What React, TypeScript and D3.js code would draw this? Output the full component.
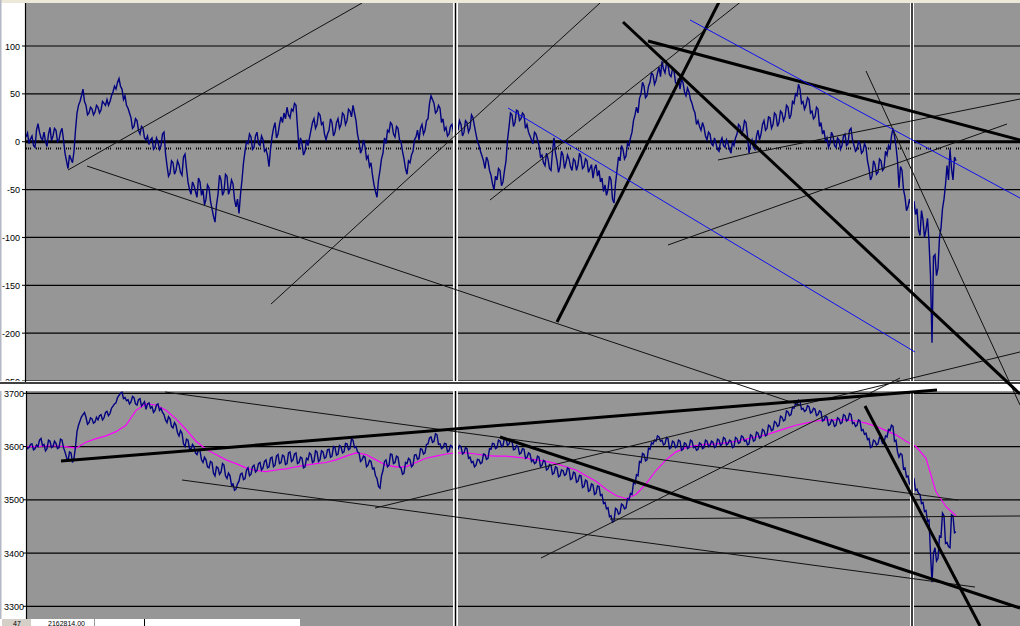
import React from 'react';
import * as d3 from 'd3';

const W = 1020;
const H = 626;

const topTicks = [100, 50, 0, -50, -100, -150, -200, -250];
const bottomTicks = [3700, 3600, 3500, 3400, 3300];

const STEP = 1.5;
const topValues = [
  5, 9, -2, 3, 6, -4, -6, 12, 19, 10, 4, 2, 10, 0, -5, 8, 15, 1, 6, 14,
  12, 0, 2, 10, 14, 2, -12, -20, -28, -14, -18, -22, -10, 12, 30, 38, 42, 48, 55, 42,
  38, 28, 30, 36, 34, 28, 31, 38, 36, 30, 33, 42, 40, 38, 44, 38, 42, 48, 52, 58,
  55, 62, 66, 58, 55, 44, 48, 38, 35, 30, 25, 14, 16, 24, 22, 12, 8, 16, 14, 4,
  2, 6, -3, 2, 4, -8, -6, 4, 0, -8, -4, 8, 10, -12, -25, -36, -33, -20, -22, -34,
  -30, -20, -24, -32, -35, -16, -13, -28, -42, -50, -55, -42, -46, -52, -58, -38, -42, -56, -50, -66,
  -60, -45, -48, -62, -70, -78, -84, -66, -55, -35, -40, -56, -52, -34, -36, -55, -50, -40, -44, -60,
  -68, -60, -75, -55, -40, -22, -10, 0, -2, 8, 5, -8, -6, 6, 10, -2, -4, 6, 2, -10,
  -8, -14, -26, -8, 5, 14, 20, 4, 8, 18, 26, 20, 30, 24, 36, 28, 25, 34, 32, 40,
  38, 15, -8, 4, -2, -14, -10, 2, -4, 4, 12, 20, 24, 14, 18, 30, 28, 18, 20, 8,
  2, 8, 12, 24, 20, 6, 10, 20, 24, 14, 18, 30, 28, 18, 22, 34, 32, 26, 38, 30,
  22, 8, 0, -12, -8, 2, -5, -18, -15, -26, -22, -35, -45, -52, -58, -40, -30, -18, -12, 4,
  -2, 12, 10, 20, 18, 8, 5, 16, 14, 2, 0, -10, -18, -28, -34, -20, -22, -14, -10, 2,
  5, 12, 2, 14, 18, 8, 12, 22, 24, 40, 48, 44, 40, 30, 32, 38, 35, 20, 24, 12,
  15, 6, 8, 16, 18, 10, 12, 20, 12, 22, 18, 6, 10, 22, 20, 10, 14, 28, 25, 16,
  8, 0, -4, -10, -15, -20, -28, -16, -20, -30, -35, -44, -50, -36, -40, -28, -30, -46, -42, -30,
  -20, 2, 15, 30, 28, 16, 20, 33, 32, 22, 24, 30, 28, 14, 18, 10, 6, 2, -2, 10,
  8, 2, -4, -16, -14, -22, -25, -12, -18, -28, -30, -10, 4, -12, -20, -32, -26, -10, -14, -28,
  -22, -14, -18, -26, -30, -18, -20, -30, -24, -12, -16, -28, -26, -18, -20, -32, -28, -24, -38, -28,
  -24, -36, -30, -42, -38, -52, -45, -56, -50, -36, -40, -60, -64, -44, -30, -16, -20, -4, -8, -18,
  -15, -2, -4, 4, 10, 22, 28, 36, 30, 45, 50, 62, 58, 46, 48, 58, 62, 72, 70, 60,
  64, 72, 78, 68, 84, 76, 72, 82, 80, 70, 68, 76, 74, 62, 60, 66, 55, 65, 62, 52,
  48, 56, 52, 44, 40, 34, 30, 18, 22, 16, 12, 20, 15, 6, 2, 10, 8, -2, -4, 4,
  -2, -8, -10, 0, 4, -4, -6, 2, -2, -8, -12, 0, -4, 4, 8, 18, 16, 8, 12, 22,
  20, 6, -12, -2, 2, -6, -8, 6, 12, 2, 8, 18, 22, 12, 14, 26, 25, 14, 18, 30,
  28, 16, 20, 32, 30, 22, 26, 38, 36, 24, 28, 42, 40, 50, 48, 60, 55, 40, 42, 34,
  38, 46, 44, 30, 32, 24, 26, 36, 34, 16, 20, 8, 12, 0, 4, -6, -2, 10, 6, -4,
  -6, 4, 2, -8, -4, 6, 8, -4, -2, 12, 14, 2, -4, -10, -8, 0, -2, -12, -10, -2,
  -6, -20, -28, -40, -36, -20, -24, -34, -32, -18, -20, -30, -28, -10, -14, -4, -8, 6, 14, 6,
  -5, -20, -48, -26, -30, -50, -58, -72, -68, -60, -66, -74, -62, -76, -70, -92, -98, -72, -82, -100,
  -92, -80, -104, -140, -210, -120, -118, -140, -132, -100, -90, -70, -60, -45, -25, -40, -8, -28, -40, -16,
  -20,
];

const bottomValues = [
  3602, 3596, 3598, 3604, 3605, 3594, 3596, 3603, 3600, 3612, 3615, 3602, 3604, 3592, 3596, 3612, 3610, 3598, 3600, 3610,
  3606, 3596, 3598, 3614, 3612, 3598, 3590, 3580, 3572, 3590, 3588, 3570, 3578, 3600, 3628, 3640, 3648, 3656, 3660, 3664,
  3655, 3642, 3645, 3654, 3652, 3644, 3646, 3655, 3650, 3658, 3660, 3650, 3654, 3664, 3666, 3658, 3662, 3672, 3676, 3680,
  3682, 3692, 3696, 3700, 3702, 3690, 3692, 3686, 3688, 3680, 3684, 3694, 3692, 3680, 3678, 3688, 3690, 3676, 3680, 3684,
  3670, 3680, 3682, 3672, 3675, 3664, 3668, 3678, 3680, 3668, 3672, 3664, 3660, 3650, 3645, 3656, 3652, 3638, 3635, 3645,
  3640, 3626, 3620, 3630, 3625, 3605, 3600, 3614, 3612, 3596, 3595, 3604, 3600, 3588, 3585, 3594, 3592, 3575, 3570, 3580,
  3575, 3562, 3560, 3572, 3570, 3550, 3545, 3562, 3560, 3548, 3552, 3568, 3565, 3545, 3540, 3550, 3545, 3528, 3530, 3518,
  3520, 3530, 3535, 3548, 3550, 3538, 3540, 3556, 3560, 3545, 3548, 3562, 3565, 3552, 3555, 3568, 3570, 3556, 3560, 3572,
  3575, 3560, 3562, 3578, 3580, 3562, 3565, 3582, 3585, 3568, 3570, 3584, 3582, 3566, 3568, 3588, 3590, 3572, 3575, 3586,
  3588, 3568, 3570, 3580, 3578, 3560, 3562, 3578, 3575, 3588, 3585, 3570, 3572, 3592, 3590, 3572, 3575, 3592, 3590, 3578,
  3580, 3594, 3595, 3580, 3582, 3600, 3598, 3584, 3586, 3602, 3600, 3588, 3590, 3606, 3605, 3594, 3596, 3614, 3612, 3598,
  3600, 3590, 3588, 3572, 3575, 3582, 3580, 3562, 3565, 3574, 3572, 3558, 3560, 3545, 3540, 3525, 3522, 3545, 3555, 3572,
  3575, 3562, 3565, 3586, 3585, 3568, 3570, 3582, 3580, 3562, 3560, 3548, 3550, 3570, 3568, 3578, 3575, 3562, 3565, 3584,
  3585, 3576, 3578, 3596, 3595, 3586, 3588, 3604, 3605, 3616, 3618, 3608, 3610, 3624, 3622, 3604, 3605, 3596, 3598, 3606,
  3605, 3590, 3592, 3602, 3600, 3596, 3598, 3594, 3595, 3602, 3600, 3586, 3588, 3598, 3596, 3578, 3580, 3570, 3572, 3562,
  3565, 3576, 3575, 3568, 3570, 3586, 3585, 3576, 3578, 3596, 3595, 3606, 3605, 3596, 3598, 3612, 3610, 3600, 3602, 3616,
  3615, 3602, 3605, 3612, 3610, 3594, 3595, 3602, 3600, 3586, 3588, 3596, 3595, 3578, 3580, 3588, 3586, 3572, 3575, 3568,
  3570, 3582, 3580, 3562, 3565, 3574, 3572, 3556, 3558, 3566, 3565, 3548, 3550, 3562, 3560, 3543, 3545, 3556, 3555, 3546,
  3548, 3560, 3558, 3538, 3540, 3552, 3550, 3533, 3535, 3546, 3545, 3523, 3525, 3537, 3535, 3516, 3518, 3530, 3528, 3510,
  3512, 3526, 3525, 3508, 3510, 3493, 3495, 3483, 3485, 3468, 3470, 3458, 3460, 3484, 3482, 3473, 3475, 3492, 3490, 3483,
  3485, 3502, 3500, 3512, 3510, 3532, 3530, 3547, 3545, 3572, 3570, 3587, 3585, 3573, 3575, 3597, 3595, 3607, 3605, 3612,
  3610, 3620, 3618, 3610, 3612, 3603, 3605, 3617, 3615, 3596, 3598, 3610, 3608, 3598, 3600, 3612, 3610, 3593, 3595, 3607,
  3605, 3596, 3598, 3612, 3610, 3598, 3600, 3593, 3595, 3607, 3605, 3596, 3598, 3612, 3610, 3600, 3602, 3610, 3608, 3598,
  3600, 3614, 3612, 3602, 3604, 3617, 3615, 3603, 3605, 3612, 3610, 3598, 3600, 3617, 3615, 3606, 3608, 3620, 3618, 3610,
  3612, 3603, 3605, 3622, 3620, 3610, 3612, 3627, 3625, 3616, 3618, 3632, 3630, 3620, 3622, 3640, 3638, 3630, 3632, 3647,
  3645, 3638, 3640, 3657, 3655, 3648, 3650, 3667, 3665, 3658, 3660, 3674, 3672, 3680, 3678, 3687, 3685, 3670, 3672, 3666,
  3668, 3677, 3675, 3663, 3665, 3672, 3670, 3658, 3660, 3667, 3665, 3648, 3650, 3657, 3655, 3640, 3642, 3650, 3648, 3638,
  3640, 3654, 3652, 3643, 3645, 3660, 3658, 3648, 3650, 3662, 3660, 3643, 3645, 3638, 3640, 3650, 3648, 3630, 3632, 3623,
  3625, 3613, 3615, 3598, 3600, 3612, 3610, 3603, 3605, 3617, 3615, 3606, 3608, 3620, 3618, 3632, 3630, 3640, 3638, 3610,
  3612, 3590, 3580, 3587, 3585, 3558, 3560, 3543, 3545, 3530, 3532, 3542, 3540, 3518, 3520, 3512, 3510, 3493, 3495, 3478,
  3480, 3460, 3462, 3400, 3345, 3400, 3410, 3385, 3390, 3432, 3430, 3475, 3470, 3418, 3420, 3412, 3410, 3472, 3470, 3438,
  3440,
];

const MA_STEP = 10;
const maValues = [
  3600, 3600, 3601, 3601, 3600, 3597, 3608, 3615, 3620, 3628,
  3640, 3668, 3680, 3678, 3668, 3652, 3632, 3610, 3595, 3585,
  3575, 3568, 3560, 3555, 3553, 3556, 3558, 3562, 3565, 3568,
  3570, 3575, 3582, 3588, 3585, 3575, 3565, 3562, 3562, 3570,
  3578, 3582, 3586, 3588, 3588, 3586, 3583, 3582, 3582, 3580,
  3578, 3575, 3572, 3568, 3562, 3556, 3545, 3535, 3520, 3508,
  3502, 3510, 3530, 3555, 3575, 3590, 3598, 3602, 3604, 3605,
  3607, 3610, 3614, 3618, 3622, 3628, 3634, 3640, 3644, 3648,
  3650, 3650, 3650, 3648, 3644, 3638, 3630, 3622, 3610, 3600,
  3578, 3515, 3487, 3470,
];

// trend lines: [idx1, value1, idx2, value2]
const topThinLines = [
  [42, -29.6, 336, 144.9],
  [61, -25.4, 774, -275.1],
  [245, -169.6, 574, 144.9],
  [464, -60.9, 717, 148],
  [692, -19.1, 994, 44.6],
  [642, -107.9, 981, 18.5],
  [840, 73.9, 994, -275.1],
];
const topThickLines = [
  [531, -188.4, 694, 148],
  [597, 125.1, 994, -263.6],
  [622, 105.2, 994, 1.8],
];
const topBlueLines = [
  [664, 127.2, 994, -58.8],
  [482, 35.2, 889, -219.7],
];
const bottomThinLines = [
  [139, 3702.4, 932, 3499.6],
  [156, 3537.2, 949, 3336.2],
  [349, 3484.6, 994, 3777.6],
  [515, 3390.7, 874, 3728.7],
  [584, 3463.9, 994, 3469.6],
];
const bottomThickLines = [
  [35, 3572.9, 911, 3706.2],
  [474, 3617.9, 994, 3296.8],
  [839, 3676.2, 954, 3263.0],
];

export default function App() {
  const x = d3.scaleLinear().domain([0, 994]).range([26, 1020]);
  const yTop = d3.scaleLinear().domain([-250, 100]).range([381, 46]);
  const yBot = d3.scaleLinear().domain([3300, 3700]).range([606.3, 393.3]);

  const topLine = d3.line<number>().x((_, i) => x(i * STEP)).y((d) => yTop(d));
  const botLine = d3.line<number>().x((_, i) => x(i * STEP)).y((d) => yBot(d));
  const maLine = d3.line<number>().x((_, i) => x(i * MA_STEP)).y((d) => yBot(d));

  const seg = (l: number[], ys: d3.ScaleLinear<number, number>) => ({
    x1: x(l[0]), y1: ys(l[1]), x2: x(l[2]), y2: ys(l[3]),
  });

  const font = 'Liberation Sans, Arial, sans-serif';
  const gray = '#969696';

  return (
    <div style={{ position: 'absolute', left: 0, top: 0, width: W, height: H, overflow: 'hidden' }}>
      <svg width={W} height={H} style={{ display: 'block' }}>
        <defs>
          <clipPath id="clipTop"><rect x={26} y={3} width={994} height={378} /></clipPath>
          <clipPath id="clipBot"><rect x={27} y={391} width={993} height={235} /></clipPath>
          <clipPath id="clipAll"><rect x={26} y={3} width={994} height={623} /></clipPath>
        </defs>
        <rect x={0} y={0} width={W} height={H} fill="#fff" />
        <rect x={0} y={0} width={W} height={3} fill="#ECE9D8" />
        <rect x={0} y={0} width={1.5} height={H} fill="#B4B8C4" />
        <rect x={26} y={3} width={994} height={378} fill={gray} />
        <rect x={27} y={391} width={993} height={235} fill={gray} />

        {topTicks.map((t) => (
          <g key={'tt' + t}>
            <line x1={26} x2={1020} y1={yTop(t)} y2={yTop(t)} stroke="#000" strokeWidth={t === 0 ? 3 : 1.2} />
            <line x1={22} x2={26} y1={yTop(t)} y2={yTop(t)} stroke="#000" strokeWidth={1} />
            <text x={20} y={yTop(t) + 3.5} textAnchor="end" fontFamily={font} fontSize={9} fill="#000">{t}</text>
          </g>
        ))}
        <line x1={26} x2={1020} y1={yTop(-7)} y2={yTop(-7)} stroke="#000" strokeWidth={2} strokeDasharray="1 1 1 1 1 5" />
        {bottomTicks.map((t) => (
          <g key={'bt' + t}>
            <line x1={27} x2={1020} y1={yBot(t)} y2={yBot(t)} stroke="#000" strokeWidth={1.2} />
            <line x1={23} x2={27} y1={yBot(t)} y2={yBot(t)} stroke="#000" strokeWidth={1} />
            <text x={24} y={yBot(t) + 3.5} textAnchor="end" fontFamily={font} fontSize={9} fill="#000">{t}</text>
          </g>
        ))}

        <g clipPath="url(#clipTop)">
          <path d={topLine(topValues) || ''} fill="none" stroke="#000080" strokeWidth={1.4} strokeLinejoin="miter" />
        </g>
        <g clipPath="url(#clipBot)">
          <path d={maLine(maValues) || ''} fill="none" stroke="#FF00FF" strokeWidth={1.2} />
          <path d={botLine(bottomValues) || ''} fill="none" stroke="#000080" strokeWidth={1.4} strokeLinejoin="miter" />
        </g>

        <rect x={453} y={3} width={5} height={H} fill="#fff" />
        <line x1={455.5} x2={455.5} y1={3} y2={H} stroke="#000" strokeWidth={1.5} />
        <rect x={910} y={3} width={4} height={H} fill="#fff" />
        <line x1={912} x2={912} y1={3} y2={H} stroke="#000" strokeWidth={1.5} />
        <rect x={0} y={381} width={W} height={10} fill="#fff" />
        <line x1={0} x2={W} y1={383} y2={383} stroke="#000" strokeWidth={1.5} />

        <line x1={25.5} x2={25.5} y1={3} y2={382} stroke="#000" strokeWidth={1.2} />
        <line x1={26.5} x2={26.5} y1={391} y2={619} stroke="#000" strokeWidth={1.2} />

        <g clipPath="url(#clipAll)">
          {topThinLines.map((l, i) => <line key={'a' + i} {...seg(l, yTop)} stroke="#111" strokeWidth={1} />)}
          {topThickLines.map((l, i) => <line key={'b' + i} {...seg(l, yTop)} stroke="#000" strokeWidth={3} />)}
          {topBlueLines.map((l, i) => <line key={'c' + i} {...seg(l, yTop)} stroke="#1010F0" strokeWidth={1} />)}
          {bottomThinLines.map((l, i) => <line key={'d' + i} {...seg(l, yBot)} stroke="#111" strokeWidth={1} />)}
          {bottomThickLines.map((l, i) => <line key={'e' + i} {...seg(l, yBot)} stroke="#000" strokeWidth={3} />)}
        </g>

        <rect x={0} y={619} width={300} height={7} fill="#fff" />
        <rect x={2} y={619} width={29} height={7} fill="#D4D0C8" />
        <text x={17} y={625.5} textAnchor="middle" fontFamily={font} fontSize={7} fill="#000">47</text>
        <text x={48} y={625.5} fontFamily={font} fontSize={7} fill="#000">2162814.00</text>
        <line x1={94.5} x2={94.5} y1={619} y2={626} stroke="#999" />
        <line x1={144.5} x2={144.5} y1={619} y2={626} stroke="#000" />
      </svg>
    </div>
  );
}
